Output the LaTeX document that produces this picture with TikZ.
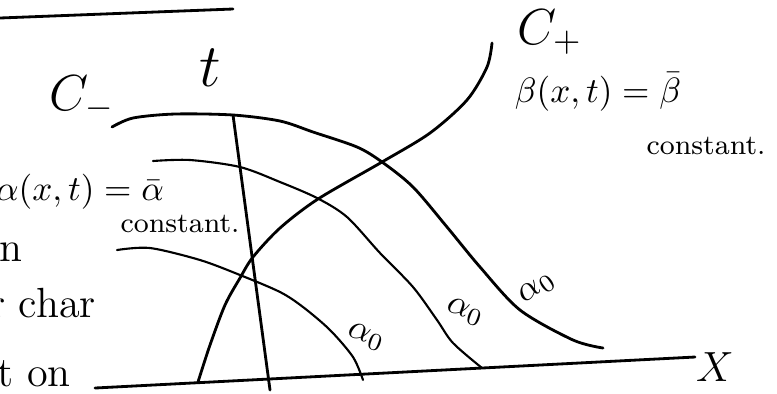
\documentclass[tikz,border=0pt]{standalone}
\usepackage{amsmath}
\usepackage{amssymb}
\usepackage{tikz}
\usepackage{xcolor}

\tikzset{
  curve/.style={thick, line cap=round},
  level/.style={semithick, line cap=round},
  lbl/.style={inner sep=1pt},
  note/.style={inner sep=1pt, font=\footnotesize}
}

\begin{document}
\begin{tikzpicture}[x=0.01cm, y=-0.01cm]
		\useasboundingbox (0,0) rectangle (777,393);
		\clip (0,0) rectangle (777,393);

		% Line at the top of the page
		\draw[curve] (0,18) -- (233,9);

		% Axes
		\draw[curve] (95,388) -- (695,357); % x axis
		\draw[curve] (233,115) -- (270,390); % t axis
		\node[lbl, font=\large] (xlab) at (715,367) {$X$};
		\node[lbl, font=\LARGE] (tlab) at (210,68) {$t$};

		% Characteristics
		\draw[curve] plot[smooth] coordinates {(198,382) (210,345) (225,305) (240,278) (253,257) (280,228) (318,199) (382,162) (430,133) (467,100) (487,67) (492,43)}; % C+
		\draw[curve] plot[smooth] coordinates {(112,127) (133,118) (175,114) (233,115) (280,121) (313,132) (357,147) (382,162) (413,187) (447,227) (480,267) (520,310) (573,340) (603,348)}; % C-
		\draw[level] plot[smooth] coordinates {(153,161) (190,160) (240,167) (280,182) (317,198) (347,217) (380,253) (413,287) (437,320) (453,343) (482,368)};
		\draw[level] plot[smooth] coordinates {(117,250) (150,248) (200,260) (240,275) (280,292) (303,307) (330,330) (353,357) (363,380)};

		% Labels of the curves
		\node[lbl, font=\Large] (cminus) at (82,98) {$C_-$};
		\node[lbl, font=\Large] (cplus) at (550,32) {$C_+$};
		\node[lbl, rotate=-20] (azero1) at (366,337) {$\alpha_0$};
		\node[lbl, rotate=-20] (azero2) at (465,312) {$\alpha_0$};
		\node[lbl, rotate=35] (azero3) at (537,288) {$\alpha_0$};

		% Invariants
		\node[lbl] (alphaeq) at (80,192) {$\alpha(x,t)=\bar{\alpha}$};
		\node[note] (alphac) at (180,224) {constant.};
		\node[lbl] (betaeq) at (598,92) {$\beta(x,t)=\bar{\beta}$};
		\node[note] (betac) at (706,146) {constant.};

		% Text cut at the left edge
		\node[lbl, anchor=east, font=\large] (cut1) at (27,252) {on};
		\node[lbl, anchor=east, font=\large] (cut2) at (100,303) {r char};
		\node[lbl, anchor=east, font=\large] (cut3) at (75,374) {t on};

	\end{tikzpicture}
\end{document}
